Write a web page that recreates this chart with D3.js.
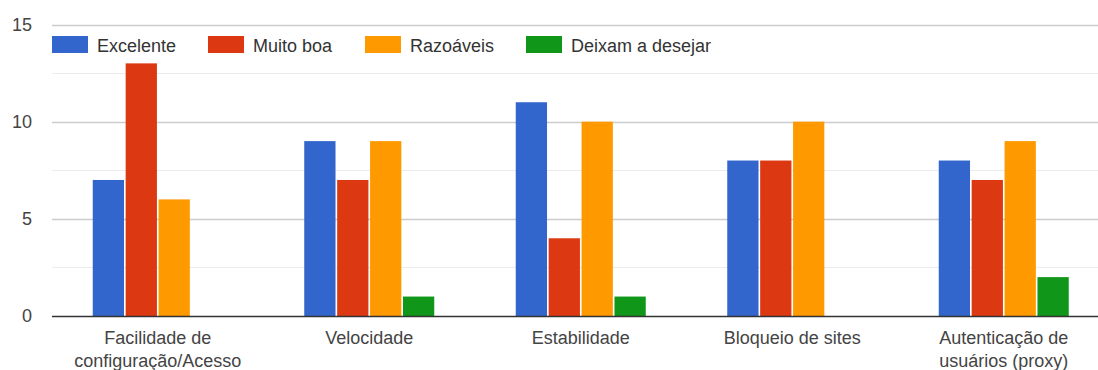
<!DOCTYPE html>
<html>
<head>
<meta charset="utf-8">
<script src="https://cdn.jsdelivr.net/npm/d3@7"></script>
<style>
  html, body { margin: 0; padding: 0; background: #fff; }
  svg { display: block; font-family: "Liberation Sans", Arial, sans-serif; }
</style>
</head>
<body>
<svg id="chart" width="1098" height="370"></svg>
<script>
// Survey answers per aspect
const categories = [
  ["Facilidade de", "configuração/Acesso"],
  ["Velocidade"],
  ["Estabilidade"],
  ["Bloqueio de sites"],
  ["Autenticação de", "usuários (proxy)"]
];
const seriesNames = ["Excelente", "Muito boa", "Razoáveis", "Deixam a desejar"];
const seriesColors = ["#3366cc", "#dc3912", "#ff9900", "#109618"];
const excelente = [7, 9, 11, 8, 8];
const muitoBoa = [13, 7, 4, 8, 7];
const razoaveis = [6, 9, 10, 10, 9];
const deixamADesejar = [0, 1, 1, 0, 2];
const yTicks = [0, 5, 10, 15];
const yMinorTicks = [2.5, 7.5, 12.5];

const series = [excelente, muitoBoa, razoaveis, deixamADesejar];
const fontFamily = '"Liberation Sans", Arial, sans-serif';

const svg = d3.select("#chart");
const plotLeft = 52, plotRight = 1109.5, plotTop = 24.5, plotBottom = 316;

const y = d3.scaleLinear().domain([0, 15]).range([plotBottom, plotTop]);
const x0 = d3.scaleBand().domain(d3.range(categories.length)).range([plotLeft, plotRight]);
const groupW = 130;
const x1 = d3.scaleBand().domain(d3.range(series.length)).range([0, groupW]).paddingInner(0.05);

// minor gridlines
svg.append("g").selectAll("line").data(yMinorTicks).join("line")
  .attr("x1", plotLeft).attr("x2", 1098)
  .attr("y1", d => Math.round(y(d)) + 0.5).attr("y2", d => Math.round(y(d)) + 0.5)
  .attr("stroke", "#ebebeb").attr("stroke-width", 1);

// major gridlines and tick labels
const yAxis = d3.axisLeft(y).tickValues(yTicks).tickSize(0).tickPadding(20);
const gy = svg.append("g").attr("transform", `translate(${plotLeft},0)`).call(yAxis);
gy.select(".domain").remove();
gy.selectAll("text").attr("font-size", 18).attr("fill", "#444").attr("font-family", fontFamily);
svg.append("g").selectAll("line").data(yTicks.filter(d => d > 0)).join("line")
  .attr("x1", plotLeft).attr("x2", 1098)
  .attr("y1", d => Math.round(y(d)) + 0.5).attr("y2", d => Math.round(y(d)) + 0.5)
  .attr("stroke", "#cccccc").attr("stroke-width", 1.5);

// bars
const groups = svg.append("g").selectAll("g").data(categories).join("g")
  .attr("transform", (d, i) => `translate(${x0(i) + x0.bandwidth() / 2 - groupW / 2},0)`);
groups.selectAll("rect")
  .data((d, i) => series.map((s, k) => ({ k, v: s[i] })))
  .join("rect")
  .attr("x", d => x1(d.k))
  .attr("width", x1.bandwidth())
  .attr("y", d => y(d.v))
  .attr("height", d => y(0) - y(d.v))
  .attr("fill", d => seriesColors[d.k]);

// baseline
svg.append("line")
  .attr("x1", plotLeft).attr("x2", 1098)
  .attr("y1", y(0) + 0.5).attr("y2", y(0) + 0.5)
  .attr("stroke", "#333").attr("stroke-width", 1.5);

// category labels
const xl = svg.append("g");
categories.forEach((lines, i) => {
  const cx = x0(i) + x0.bandwidth() / 2;
  const t = xl.append("text")
    .attr("x", cx)
    .attr("y", 344)
    .attr("text-anchor", "middle")
    .attr("font-size", 18)
    .attr("font-family", fontFamily)
    .attr("fill", "#444");
  lines.forEach((ln, j) => {
    t.append("tspan").attr("x", cx).attr("dy", j === 0 ? 0 : 23).text(ln);
  });
});

// legend
const legendX = [52, 208, 365, 526];
const lg = svg.append("g");
seriesNames.forEach((name, k) => {
  lg.append("rect").attr("x", legendX[k]).attr("y", 36).attr("width", 36).attr("height", 17)
    .attr("fill", seriesColors[k]);
  lg.append("text").attr("x", legendX[k] + 45).attr("y", 51.5)
    .attr("font-size", 18).attr("font-family", fontFamily).attr("fill", "#333").text(name);
});
</script>
</body>
</html>
